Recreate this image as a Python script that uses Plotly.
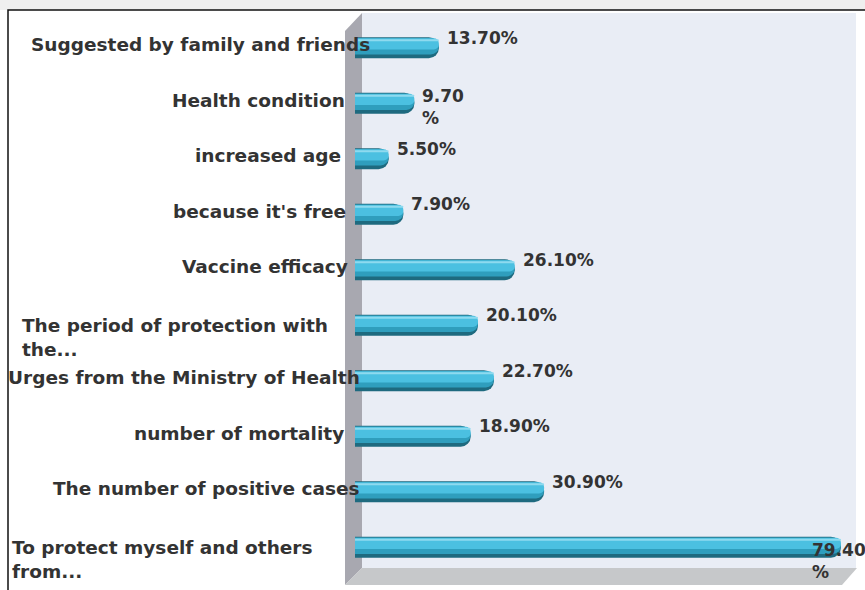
import plotly.graph_objects as go

# Reasons for taking the vaccine (share of respondents, %)
categories = [
    "Suggested by family and friends",
    "Health condition",
    "increased age",
    "because it's free",
    "Vaccine efficacy",
    "The period of protection with the...",
    "Urges from the Ministry of Health",
    "number of mortality",
    "The number of positive cases",
    "To protect myself and others from...",
]
values = [13.7, 9.7, 5.5, 7.9, 26.1, 20.1, 22.7, 18.9, 30.9, 79.4]

# Axis label text as displayed (long ones wrap onto two lines)
tick_labels = [
    "Suggested by family and friends",
    "Health condition",
    "increased age",
    "because it's free",
    "Vaccine efficacy",
    "The period of protection with<br>the...",
    "Urges from the Ministry of Health",
    "number of mortality",
    "The number of positive cases",
    "To protect myself and others<br>from...",
]

W, H = 865, 590
ML, MR, MT, MB = 355, 10, 20, 15
PW, PH = W - ML - MR, H - MT - MB
XMAX = PW / 6.12


def px(x):
    return (x - ML) / PW


def py(y):
    return (H - MB - y) / PH


TEXT = "#333333"
FONT = "DejaVu Sans"

fig = go.Figure()

# cylinder-like bars: dark rim, shaded underside, cyan body, light top highlight
layers = [
    dict(color="#1e6a7f", offset=-0.19, width=0.38, radius=10),
    dict(color="#2f9ebd", offset=-0.17, width=0.29, radius=9),
    dict(color="#4bc0e1", offset=-0.17, width=0.20, radius=8),
    dict(color="#8edaef", offset=-0.155, width=0.04, radius=2),
]
for lay in layers:
    fig.add_trace(go.Bar(
        x=values, y=categories, orientation="h",
        offset=lay["offset"], width=lay["width"],
        marker=dict(color=lay["color"], line=dict(width=0), cornerradius=lay["radius"]),
        hoverinfo="skip", showlegend=False,
    ))

shapes = [
    # strip above the frame
    dict(type="rect", xref="paper", yref="paper", x0=px(0), x1=px(W), y0=py(0), y1=py(10),
         fillcolor="#efefef", line=dict(width=0), layer="below"),
    # back wall
    dict(type="rect", xref="paper", yref="paper", x0=px(362), x1=px(856), y0=py(13), y1=py(568),
         fillcolor="#e9edf5", line=dict(width=0), layer="below"),
    # side wall
    dict(type="path", xref="paper", yref="paper",
         path=f"M {px(345)} {py(31)} L {px(362)} {py(13)} L {px(362)} {py(568)} L {px(345)} {py(585)} Z",
         fillcolor="#a8a8b0", line=dict(width=0), layer="below"),
    # floor
    dict(type="path", xref="paper", yref="paper",
         path=f"M {px(345)} {py(585)} L {px(362)} {py(568)} L {px(857)} {py(568)} L {px(842)} {py(585)} Z",
         fillcolor="#c6c8ca", line=dict(width=0), layer="below"),
    # outer frame
    dict(type="path", xref="paper", yref="paper",
         path=f"M {px(8)} {py(600)} L {px(8)} {py(10)} L {px(870)} {py(10)}",
         line=dict(color="#111111", width=1.5), layer="above"),
]

annotations = []
# category labels: right end (px) for single lines, left start (px) for wrapped ones
label_right = [372, 347, 343, 348, 350, None, 362, 346, 362, None]
label_left = [None, None, None, None, None, 20, None, None, None, 10]
for cat, lab, r, l in zip(categories, tick_labels, label_right, label_left):
    if r is not None:
        annotations.append(dict(
            x=px(r), xref="paper", y=cat, yref="y", text=lab, showarrow=False,
            xanchor="right", yanchor="middle", yshift=3,
            font=dict(family=FONT, size=18.5, color=TEXT, weight="bold"),
        ))
    else:
        annotations.append(dict(
            x=px(l), xref="paper", y=cat, yref="y", text=lab, showarrow=False,
            xanchor="left", yanchor="top", align="left", yshift=12,
            font=dict(family=FONT, size=18.5, color=TEXT, weight="bold"),
        ))

# value labels
wrapped = {"Health condition": (6, -4), "To protect myself and others from...": (-31, -14)}
for cat, v in zip(categories, values):
    txt = f"{v:.2f}%"
    if cat in wrapped:
        dx, dy = wrapped[cat]
        txt = f"{v:.2f}<br>%"
    else:
        dx, dy = 6, 10
    annotations.append(dict(
        x=v, xref="x", y=cat, yref="y", text=txt, showarrow=False,
        xanchor="left", yanchor="middle", align="left", xshift=dx, yshift=dy,
        font=dict(family=FONT, size=17, color=TEXT, weight="bold"),
    ))

fig.update_layout(
    width=W, height=H,
    margin=dict(l=ML, r=MR, t=MT, b=MB, pad=0),
    paper_bgcolor="white", plot_bgcolor="rgba(0,0,0,0)",
    barmode="overlay",
    shapes=shapes, annotations=annotations,
    xaxis=dict(range=[0, XMAX], visible=False, fixedrange=True),
    yaxis=dict(categoryorder="array", categoryarray=categories, autorange="reversed",
               showticklabels=False, showgrid=False, zeroline=False, showline=False,
               fixedrange=True),
)

fig.write_html("out.html")
